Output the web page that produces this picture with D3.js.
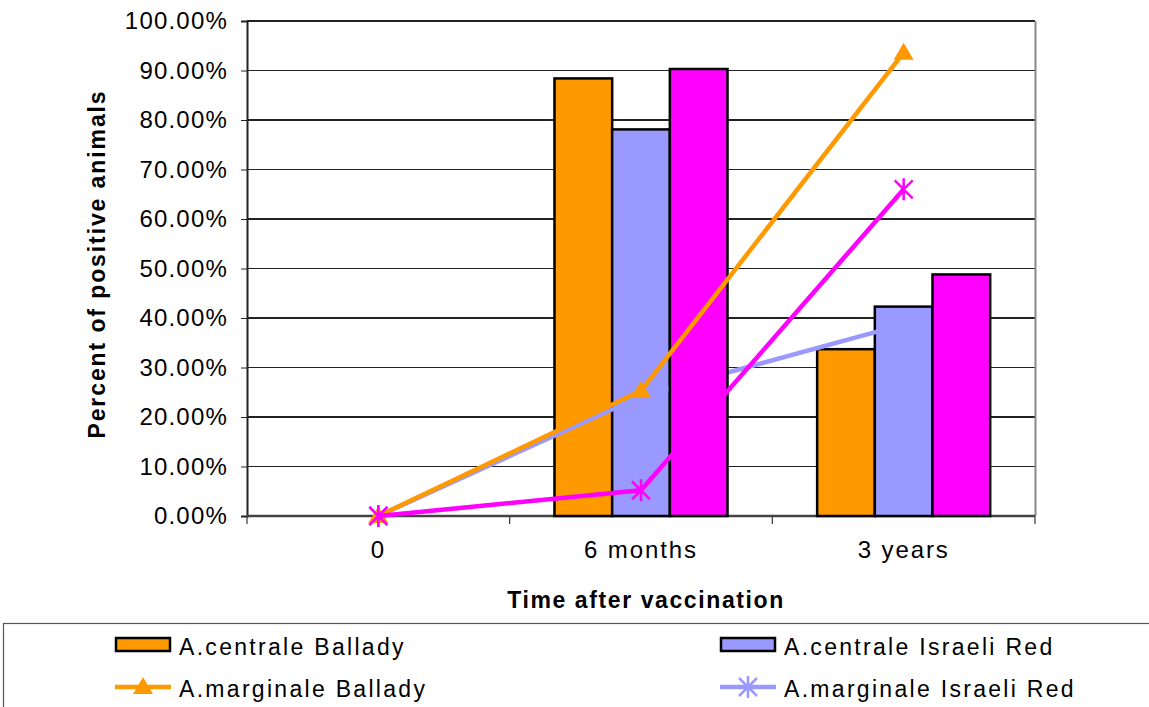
<!DOCTYPE html>
<html><head><meta charset="utf-8">
<script src="https://cdn.jsdelivr.net/npm/d3@7"></script>
<style>html,body{margin:0;padding:0;background:#fff;overflow:hidden}svg{display:block}</style>
</head><body><svg id="c" width="1149" height="707"></svg>
<script>
const categories = ["0", "6 months", "3 years"];
const yTicks = [0, 10, 20, 30, 40, 50, 60, 70, 80, 90, 100];
const barSeries = ["A.centrale Ballady", "A.centrale Israeli Red", "A.centrale (third group)"];
const barCentraleBallady = [0, 88.4, 33.7];
const barCentraleIsraeli = [0, 78.1, 42.3];
const barCentraleThird = [0, 90.3, 48.8];
const lineSeries = ["A.marginale Ballady", "A.marginale Israeli Red", "A.marginale (third group)"];
const lineMarginaleBallady = [0, 25.3, 93.6];
const lineMarginaleIsraeli = [0, 24.2, 38.7];
const lineMarginaleThird = [0, 5.2, 66.0];
const colors = ["#FF9900", "#9999FF", "#FF00FF"];

const svg = d3.select("#c");
const L = 247, R = 1035, T = 21, B = 516;
const y = d3.scaleLinear().domain([0, 100]).range([B, T]);
const x0 = d3.scaleBand().domain(categories).range([L, R]).padding(0);
const x1 = d3.scaleBand().domain([0, 1, 2]).range([0, x0.bandwidth()]).paddingInner(0).paddingOuter(0.777);
const cx = c => x0(c) + x0.bandwidth() / 2;
const font = "'Liberation Sans', Arial, sans-serif";

// grid
svg.append("g").selectAll("line").data(yTicks.slice(1)).join("line")
  .attr("x1", L).attr("x2", R).attr("y1", d => y(d)).attr("y2", d => y(d))
  .attr("stroke", "#222").attr("stroke-width", 1.2).attr("shape-rendering", "crispEdges");
// right border
svg.append("line").attr("x1", R + 0.5).attr("x2", R + 0.5).attr("y1", T).attr("y2", B)
  .attr("stroke", "#888").attr("stroke-width", 2);

// y axis
const yAx = svg.append("g").attr("transform", `translate(${L},0)`)
  .call(d3.axisLeft(y).tickValues(yTicks).tickSize(6).tickPadding(13).tickFormat(d => d.toFixed(2) + "%"));
yAx.select(".domain").attr("stroke", "#222").attr("stroke-width", 2);
yAx.selectAll(".tick line").attr("stroke", "#222");
yAx.selectAll("text").attr("font-family", font).attr("font-size", 24).attr("letter-spacing", 1.2).attr("fill", "#000");

// x axis
const xAx = svg.append("g").attr("transform", `translate(0,${B})`)
  .call(d3.axisBottom(x0).tickSize(0).tickPadding(25));
xAx.select(".domain").remove();
xAx.selectAll("text").attr("font-family", font).attr("font-size", 24).attr("letter-spacing", 1.9).attr("fill", "#000");
const xEdges = categories.map(c => x0(c)).concat([R]);
svg.append("g").selectAll("line").data(xEdges).join("line")
  .attr("x1", d => d).attr("x2", d => d).attr("y1", B).attr("y2", B + 8)
  .attr("stroke", "#333").attr("stroke-width", 1.2);

const barData = [barCentraleBallady, barCentraleIsraeli, barCentraleThird];
const lineData = [lineMarginaleBallady, lineMarginaleIsraeli, lineMarginaleThird];
const line = d3.line().x((d, i) => cx(categories[i])).y(d => y(d));

function drawBars(si) {
  svg.append("g").selectAll("rect").data(barData[si].map((v, i) => ({v, c: categories[i]})).filter(d => d.v > 0)).join("rect")
    .attr("x", d => x0(d.c) + x1(si)).attr("width", x1.bandwidth())
    .attr("y", d => y(d.v)).attr("height", d => B - y(d.v))
    .attr("fill", colors[si]).attr("stroke", "#000").attr("stroke-width", 2.5);
}
function drawLine(si) {
  svg.append("path").datum(lineData[si]).attr("d", line).attr("fill", "none")
    .attr("stroke", colors[si]).attr("stroke-width", 4.5).attr("stroke-linejoin", "round");
}
function marker(g, kind, color, px, py) {
  if (kind === 0) {
    g.append("path").attr("d", `M${px},${py - 10}L${px + 10},${py + 7}L${px - 10},${py + 7}Z`).attr("fill", color);
  } else {
    const s = 9;
    g.append("path").attr("d", `M${px - s},${py - s}L${px + s},${py + s}M${px - s},${py + s}L${px + s},${py - s}M${px},${py - s - 2}L${px},${py + s + 2}`)
      .attr("stroke", color).attr("stroke-width", 2.5).attr("fill", "none");
  }
}
function drawMarkers(si) {
  const g = svg.append("g");
  lineData[si].forEach((v, i) => marker(g, si === 0 ? 0 : 1, colors[si], cx(categories[i]), y(v)));
}

// x-axis baseline under bars
svg.append("line").attr("x1", L).attr("x2", R).attr("y1", B).attr("y2", B).attr("stroke", "#444").attr("stroke-width", 2.5);

drawBars(0);
drawBars(1);
drawLine(1); drawMarkers(1);
drawBars(2);
drawLine(0); drawMarkers(0);
drawLine(2); drawMarkers(2);

// titles
svg.append("text").attr("x", 646).attr("y", 608).attr("text-anchor", "middle")
  .attr("font-family", font).attr("font-weight", "bold").attr("font-size", 23).attr("letter-spacing", 1.6).text("Time after vaccination");
svg.append("text").attr("transform", `translate(105,264) rotate(-90)`).attr("text-anchor", "middle")
  .attr("font-family", font).attr("font-weight", "bold").attr("font-size", 23).attr("letter-spacing", 1.9).text("Percent of positive animals");

// legend
svg.append("rect").attr("x", 3.5).attr("y", 623.5).attr("width", 1160).attr("height", 200)
  .attr("fill", "#fff").attr("stroke", "#555").attr("stroke-width", 1.2);
const legItems = [];
for (let k = 0; k < 3; k++) { legItems.push({name: barSeries[k], type: "bar", si: k}); legItems.push({name: lineSeries[k], type: "line", si: k}); }
const order = [legItems[0], legItems[2], legItems[1], legItems[3], legItems[4], legItems[5]];
order.forEach((it, idx) => {
  const col = idx % 2, row = Math.floor(idx / 2);
  const sx = col === 0 ? 115 : 720, sy = 645 + row * 42;
  const g = svg.append("g");
  if (it.type === "bar") {
    g.append("rect").attr("x", sx + 1).attr("y", sy - 7).attr("width", 54).attr("height", 13)
      .attr("fill", colors[it.si]).attr("stroke", "#000").attr("stroke-width", 2.5);
  } else {
    g.append("line").attr("x1", sx).attr("x2", sx + 56).attr("y1", sy).attr("y2", sy)
      .attr("stroke", colors[it.si]).attr("stroke-width", 4.5);
    marker(g, it.si === 0 ? 0 : 1, colors[it.si], sx + 28, sy);
  }
  g.append("text").attr("x", sx + 64).attr("y", sy + 10).attr("font-family", font).attr("font-size", 23)
    .attr("letter-spacing", 2.3).attr("fill", "#000").text(it.name);
});
</script></body></html>
